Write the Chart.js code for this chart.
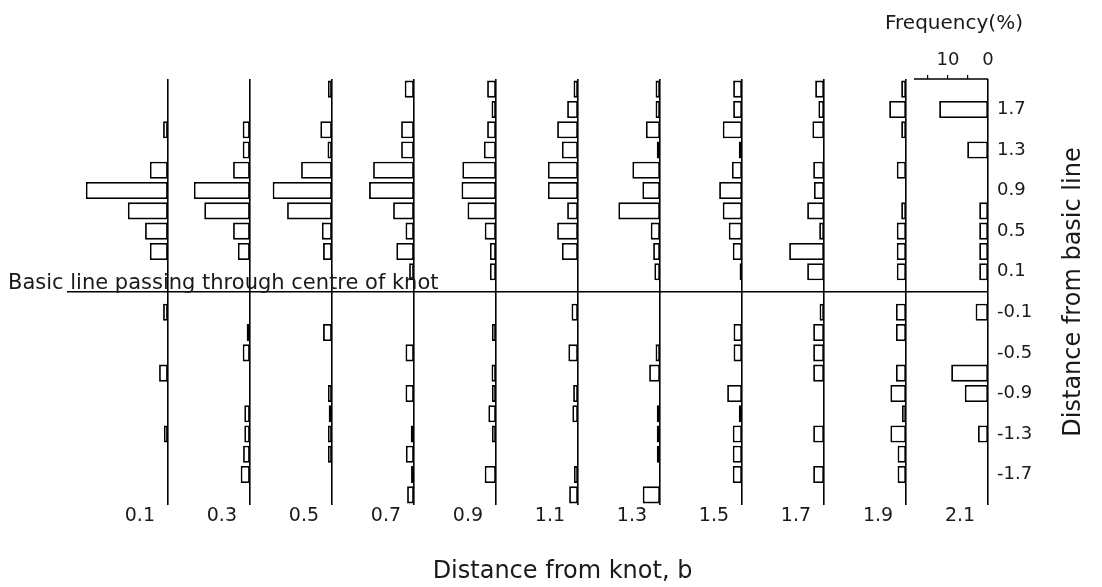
<!DOCTYPE html>
<html lang="en">
<head>
<meta charset="UTF-8">
<title>Frequency of distance from basic line, by distance from knot</title>
<script src="https://cdn.jsdelivr.net/npm/chart.js@4.4.1/dist/chart.umd.min.js"></script>
<style>
    html, body {
        margin: 0;
        padding: 0;
        background: #fff;
    }
    .chart-box {
        position: relative;
        width: 1102px;
        height: 587px;
    }
</style>
</head>
<body>
<div class="chart-box">
    <canvas id="knotChart" width="1102" height="587"></canvas>
</div>

<script>
// distance from knot, b  (one histogram per value)
const knotDistances = [0.1, 0.3, 0.5, 0.7, 0.9, 1.1, 1.3, 1.5, 1.7, 1.9, 2.1];

// class centres of the distance from the basic line, top to bottom
const binLabels = ['1.9', '1.7', '1.5', '1.3', '1.1', '0.9', '0.7', '0.5', '0.3', '0.1',
                   '-0.1', '-0.3', '-0.5', '-0.7', '-0.9', '-1.1', '-1.3', '-1.5', '-1.7', '-1.9'];
const shownTicks = ['1.7', '1.3', '0.9', '0.5', '0.1', '-0.1', '-0.5', '-0.9', '-1.3', '-1.7'];
const freqTicks = [0, 5, 10, 15];
const freqTickLabels = [0, 10];

// frequency (%) in each class, same order as binLabels
const freqB01 = [0, 0, 1.2, 0, 4.5, 20.5, 10, 5.7, 4.5, 0,    1.2, 0, 0, 2.2, 0, 0, 1, 0, 0, 0];
const freqB03 = [0, 0, 1.8, 1.8, 4.2, 14, 11.4, 4.2, 3, 0,    0, 0.8, 1.8, 0, 0, 1.4, 1.4, 1.7, 2.3, 0];
const freqB05 = [1, 0, 2.9, 1.1, 7.7, 14.8, 11.2, 2.5, 2.2, 0, 0, 2.2, 0, 0, 1, 0.8, 1, 1, 0, 0];
const freqB07 = [2.3, 0, 3.2, 3.2, 10.2, 11.2, 5.2, 2.1, 4.4, 1.2, 0, 0, 2.1, 0, 2.1, 0, 0.8, 2, 0.7, 1.7];
const freqB09 = [2.2, 1.1, 2.2, 3, 8.4, 8.6, 7.1, 2.8, 1.5, 1.5, 0, 1, 0, 1.1, 1, 1.9, 1, 0, 2.8, 0];
const freqB11 = [1.1, 2.7, 5.2, 4, 7.5, 7.5, 2.7, 5.2, 4, 0,  1.6, 0, 2.4, 0, 1.2, 1.4, 0, 0, 1, 2.2];
const freqB13 = [1.1, 1.1, 3.5, 0.8, 6.9, 4.4, 10.4, 2.3, 1.7, 1.4, 0, 0, 1.1, 2.7, 0, 0.8, 0.8, 0.8, 0, 4.3];
const freqB15 = [2.2, 2.2, 4.8, 0.8, 2.5, 5.7, 4.8, 3.3, 2.3, 0.6, 0, 2.1, 2.1, 0, 3.7, 0.8, 2.3, 2.3, 2.3, 0];
const freqB17 = [2.2, 1.4, 2.9, 0, 2.7, 2.5, 4.2, 1.2, 8.7, 4.2, 1.1, 2.7, 2.7, 2.7, 0, 0, 2.7, 0, 2.7, 0];
const freqB19 = [1.2, 4.2, 1.2, 0, 2.3, 0, 1.2, 2.3, 2.3, 2.3, 2.5, 2.5, 0, 2.5, 3.9, 1, 3.9, 2.1, 2.1, 0];
const freqB21 = [0, 12.2, 0, 5.2, 0, 0, 2.2, 2.2, 2.2, 2.2,   3.1, 0, 0, 9.2, 5.8, 0, 2.5, 0, 0, 0];

const freqSeries = [freqB01, freqB03, freqB05, freqB07, freqB09, freqB11,
                    freqB13, freqB15, freqB17, freqB19, freqB21];

// the basic line takes one slot between the +0.1 and -0.1 classes
const LINE_SLOT = '0';
const categories = [...binLabels.slice(0, 10), LINE_SLOT, ...binLabels.slice(10)];

// x axis is in units of b; each histogram hangs to the left of its b
const X_MIN = -0.146;
const X_MAX = 2.1;
const PCT = 0.00976;              // b units per 1 % of frequency
const F_MAX = (X_MAX - X_MIN) / PCT;

const TEXT = '#1a1a1a';
const FONT = 'DejaVu Sans';

const datasets = knotDistances.map((b, i) => ({
    label: 'b = ' + b.toFixed(1),
    xAxisID: 'x',
    yAxisID: 'y',
    data: categories.map(c => {
        const k = binLabels.indexOf(c);
        if (k < 0) return null;
        const v = freqSeries[i][k];
        return v ? [b - v * PCT, b] : null;
    }),
    backgroundColor: '#fff',
    borderColor: '#000',
    borderWidth: 1.8,
    borderSkipped: false,
    grouped: false,
    barPercentage: 0.84,
    categoryPercentage: 1.0
}));

// texts that sit outside the axes, and the short frequency scale
const extrasPlugin = {
    id: 'extras',
    afterDraw(chart) {
        const {ctx, chartArea, scales} = chart;
        const xf = scales.xf;
        const yLine = scales.y.getPixelForValue(categories.indexOf(LINE_SLOT));
        ctx.save();

        ctx.strokeStyle = '#000';
        ctx.lineWidth = 1.6;
        ctx.beginPath();
        ctx.moveTo(xf.getPixelForValue(18.5), chartArea.top);
        ctx.lineTo(xf.getPixelForValue(0), chartArea.top);
        ctx.stroke();

        ctx.fillStyle = TEXT;
        ctx.textAlign = 'center';
        ctx.textBaseline = 'middle';
        ctx.font = '20px "' + FONT + '"';
        ctx.fillText('Frequency(%)', xf.getPixelForValue(8.5), 24);

        ctx.textAlign = 'left';
        ctx.textBaseline = 'alphabetic';
        ctx.font = '21px "' + FONT + '"';
        ctx.fillText('Basic line passing through centre of knot', 8, yLine - 3);

        ctx.textAlign = 'center';
        ctx.textBaseline = 'middle';
        ctx.font = '24px "' + FONT + '"';
        ctx.fillText('Distance from knot, b', (chartArea.left + chartArea.right) / 2 + 35, 572);

        ctx.translate(chart.width - 28, yLine);
        ctx.rotate(-Math.PI / 2);
        ctx.fillText('Distance from basic line', 0, 0);
        ctx.restore();
    }
};

const chart = new Chart(document.getElementById('knotChart'), {
    type: 'bar',
    data: {
        labels: categories,
        datasets: datasets
    },
    plugins: [extrasPlugin],
    options: {
        indexAxis: 'y',
        responsive: false,
        animation: false,
        layout: {
            padding: {left: 67, right: 0, top: 0, bottom: 0}
        },
        plugins: {
            legend: {display: false},
            title: {display: false},
            tooltip: {enabled: false}
        },
        scales: {
            x: {
                type: 'linear',
                position: 'bottom',
                min: X_MIN,
                max: X_MAX,
                afterBuildTicks: s => { s.ticks = knotDistances.map(v => ({value: v})); },
                afterFit: s => { s.height = 82; },
                border: {display: false},
                grid: {color: '#000', lineWidth: 1.6, drawTicks: false},
                ticks: {
                    callback: v => v.toFixed(1),
                    labelOffset: -28,
                    padding: 0,
                    autoSkip: false,
                    maxRotation: 0,
                    color: TEXT,
                    font: {family: FONT, size: 19}
                }
            },
            xf: {
                type: 'linear',
                position: 'top',
                reverse: true,
                min: 0,
                max: F_MAX,
                afterBuildTicks: s => { s.ticks = freqTicks.map(v => ({value: v})); },
                afterFit: s => { s.height = 79; },
                border: {display: false},
                grid: {
                    drawOnChartArea: false,
                    drawTicks: true,
                    tickLength: 4,
                    lineWidth: 1.2,
                    color: c => (c.tick && c.tick.value === 0) ? 'rgba(0,0,0,0)' : '#000'
                },
                ticks: {
                    callback: v => freqTickLabels.includes(v) ? String(v) : '',
                    padding: 4,
                    autoSkip: false,
                    maxRotation: 0,
                    color: TEXT,
                    font: {family: FONT, size: 18}
                }
            },
            y: {
                type: 'category',
                labels: categories,
                position: 'right',
                offset: true,
                afterFit: s => { s.width = 114; },
                border: {display: false},
                grid: {
                    offset: false,
                    drawTicks: false,
                    lineWidth: 1.6,
                    color: c => categories[c.index] === LINE_SLOT ? '#000' : 'rgba(0,0,0,0)'
                },
                ticks: {
                    autoSkip: false,
                    padding: 9,
                    callback: (v, i) => shownTicks.includes(categories[i]) ? categories[i] : '',
                    color: TEXT,
                    font: {family: FONT, size: 18}
                }
            }
        }
    }
});
</script>
</body>
</html>
